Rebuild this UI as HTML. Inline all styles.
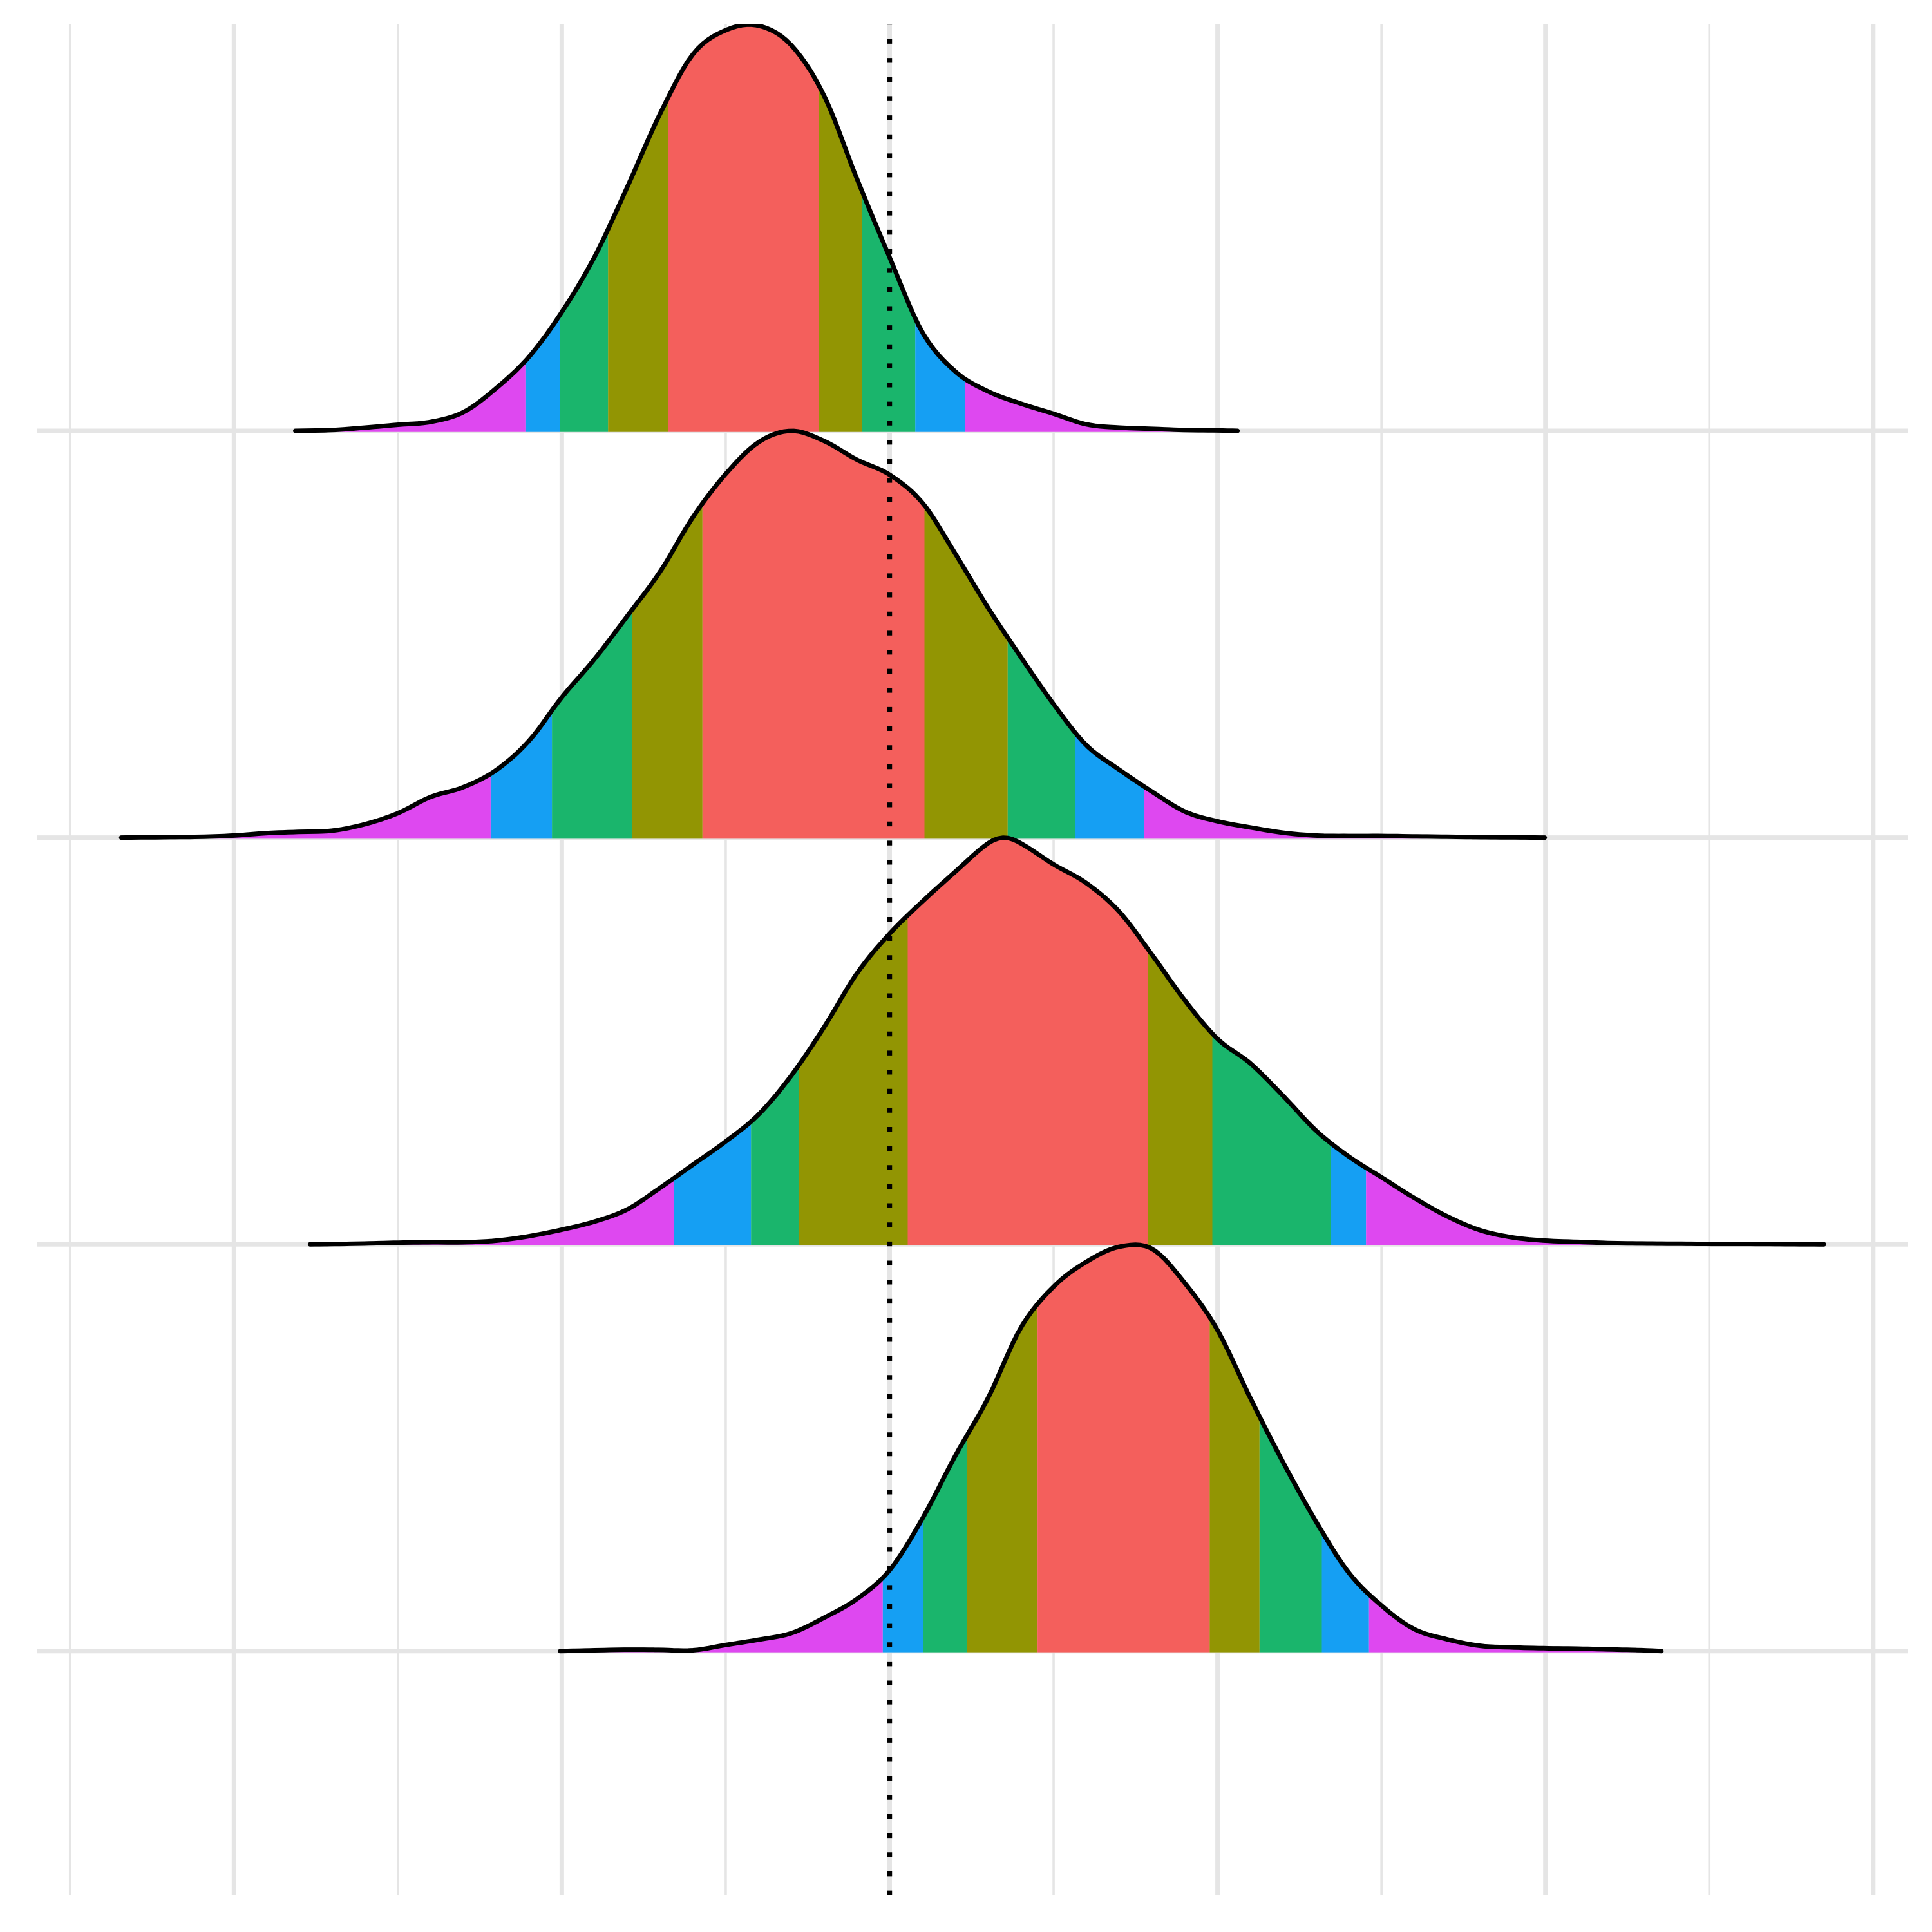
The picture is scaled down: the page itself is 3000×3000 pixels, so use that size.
<!DOCTYPE html>
<html lang="en">
<head>
<meta charset="utf-8">
<title>Ridgeline density chart</title>
<style>
html,body{margin:0;padding:0;background:#fff;width:3000px;height:3000px;overflow:hidden}
svg{display:block}
</style>
</head>
<body>
<svg id="chart" xmlns="http://www.w3.org/2000/svg" width="3000" height="3000" viewBox="0 0 3000 3000">
  <defs>
    <clipPath id="panel-clip"><rect x="0" y="38" width="3000" height="2905"></rect></clipPath>
  </defs>
  <rect x="0" y="0" width="3000" height="3000" fill="#ffffff"></rect>
  <g id="grid"></g>
  <g id="ridges" clip-path="url(#panel-clip)"></g>
  <g id="ref"></g>
</svg>
<script>
const groups = ["ridge-1", "ridge-2", "ridge-3", "ridge-4"];
const majorBreaks = [-200, -100, 0, 100, 200, 300];
const minorBreaks = [-250, -150, -50, 50, 150, 250];
const referenceValue = 0;

const ridge1X = [-181.3,-170,-160,-150,-140,-130,-120,-110,-100,-90,-80,-70,-60,-50,-40,-30,-20,-10,0,10,20,30,40,50,60,70,80,90,100,106.1];
const ridge1H = [0,0.2,0.8,1.5,2.2,4.6,10.5,18.2,29.2,42.8,60,78,92.6,98.5,99.6,94.8,82.4,62,42.6,24.2,14.6,9.7,6.7,4.2,1.6,0.8,0.5,0.2,0.1,0];
const ridge1Breaks = [-111.1,-100.5,-85.9,-67.5,-21.5,-8.5,7.8,22.9];

const ridge2X = [-234.4,-220,-210,-200,-190,-180,-170,-160,-150,-140,-130,-120,-110,-100,-90,-80,-70,-60,-50,-40,-30,-20,-10,0,10,20,30,40,50,60,70,80,90,100,110,120,130,140,150,160,170,180,190,199.8];
const ridge2H = [0,0.1,0.2,0.5,1.1,1.4,1.7,3.3,6,10,12.4,16.6,23.8,34.5,43.9,54.5,65.4,78.8,89.4,97.2,100,97.5,92.9,89.2,82.3,69.8,56.5,44.4,32.8,22.7,16.7,11.3,6.4,4,2.5,1.2,0.5,0.4,0.4,0.3,0.2,0.1,0.05,0];
const ridge2Breaks = [-121.7,-103,-78.5,-57.1,10.6,36,56.5,77.5];

const ridge3X = [-176.8,-170,-160,-150,-140,-130,-120,-110,-100,-90,-80,-70,-60,-50,-40,-30,-20,-10,0,10,20,30,35,40,50,60,70,80,90,100,110,120,130,140,150,160,170,180,190,200,210,220,230,240,250,260,270,285];
const ridge3H = [0,0.05,0.2,0.4,0.5,0.5,0.9,2,3.6,5.6,8.6,13.9,19.6,25.3,31.9,41.5,53.4,66.6,76.4,84.3,91.6,98.6,100,98.6,93.4,88.8,81.8,71.2,60,50.5,44.5,36.5,28,21.6,16.5,11.4,6.9,3.5,1.7,0.9,0.6,0.3,0.2,0.15,0.1,0.1,0.05,0];
const ridge3Breaks = [-65.8,-42.3,-27.8,5.5,78.7,98.4,134.5,145.3];

const ridge4X = [-100.5,-90,-80,-70,-60,-50,-40,-30,-20,-10,0,10,20,30,40,50,60,70,80,90,100,110,120,130,140,150,160,170,180,190,200,210,220,230,235.4];
const ridge4H = [0,0.2,0.35,0.3,0.2,1.5,2.8,4.4,8.2,12.8,19.9,32.6,48,62.2,79.5,89.6,95.7,99.4,98.9,90.5,78.9,62.2,46.4,31.9,19.3,11.2,5.4,2.9,1.3,0.9,0.7,0.6,0.4,0.2,0];
const ridge4Breaks = [-2.1,10.3,23.6,45.1,97.6,112.8,131.8,146.2];

const bandColors = ["#DE48F0","#159FF3","#1AB56C","#929503","#F45F5C","#929503","#1AB56C","#159FF3","#DE48F0"];

const SVG_NS = "http://www.w3.org/2000/svg";
const xScale = v => 1381.5 + 5.091 * v;
const heightScale = h => h * 6.316;
const baselineOf = i => 669 + 631.6 * i;

function makeDensity(xs, hs) {
  const n = xs.length;
  const slope = new Array(n);
  for (let i = 0; i < n; i++) {
    if (i === 0) slope[i] = (hs[1] - hs[0]) / (xs[1] - xs[0]);
    else if (i === n - 1) slope[i] = (hs[n - 1] - hs[n - 2]) / (xs[n - 1] - xs[n - 2]);
    else slope[i] = (hs[i + 1] - hs[i - 1]) / (xs[i + 1] - xs[i - 1]);
  }
  return function (x) {
    if (x <= xs[0]) return hs[0];
    if (x >= xs[n - 1]) return hs[n - 1];
    let i = 0;
    while (i < n - 2 && x > xs[i + 1]) i++;
    const d = xs[i + 1] - xs[i];
    const t = (x - xs[i]) / d;
    const t2 = t * t, t3 = t2 * t;
    return (2 * t3 - 3 * t2 + 1) * hs[i] + (t3 - 2 * t2 + t) * d * slope[i] +
           (-2 * t3 + 3 * t2) * hs[i + 1] + (t3 - t2) * d * slope[i + 1];
  };
}

const gridLayer = document.getElementById("grid");
function addVLine(v, width, name) {
  const ln = document.createElementNS(SVG_NS, "line");
  ln.setAttribute("x1", xScale(v));
  ln.setAttribute("x2", xScale(v));
  ln.setAttribute("y1", 38);
  ln.setAttribute("y2", 2943);
  ln.setAttribute("stroke", "#E5E5E5");
  ln.setAttribute("stroke-width", width);
  
  
  gridLayer.appendChild(ln);
}
minorBreaks.forEach(v => addVLine(v, 3.6, "minor-gridline"));
majorBreaks.forEach(v => addVLine(v, 7, "major-gridline"));
groups.forEach((g, i) => {
  const ln = document.createElementNS(SVG_NS, "line");
  ln.setAttribute("x1", 57);
  ln.setAttribute("x2", 2962);
  ln.setAttribute("y1", baselineOf(i));
  ln.setAttribute("y2", baselineOf(i));
  ln.setAttribute("stroke", "#E5E5E5");
  ln.setAttribute("stroke-width", 7);
  
  
  gridLayer.appendChild(ln);
});

const ridgeLayer = document.getElementById("ridges");
function drawRidge(index, xs, hs, breaks) {
  const base = baselineOf(index);
  const density = makeDensity(xs, hs);
  const xMin = xs[0], xMax = xs[xs.length - 1];
  const edges = [xMin].concat(breaks, [xMax]);
  const group = document.createElementNS(SVG_NS, "g");
  
  
  for (let b = 0; b < edges.length - 1; b++) {
    const a0 = edges[b], a1 = edges[b + 1];
    let d = "M" + xScale(a0).toFixed(1) + " " + (base + 1.8);
    const steps = Math.max(2, Math.ceil((a1 - a0) / 1.5));
    for (let s = 0; s <= steps; s++) {
      const v = a0 + (a1 - a0) * s / steps;
      d += "L" + xScale(v).toFixed(1) + " " + (base - heightScale(density(v))).toFixed(1);
    }
    d += "L" + xScale(a1).toFixed(1) + " " + (base + 1.8) + "Z";
    const band = document.createElementNS(SVG_NS, "path");
    band.setAttribute("d", d);
    band.setAttribute("fill", bandColors[b]);
    
    
    group.appendChild(band);
  }
  let dl = "";
  const total = Math.ceil((xMax - xMin) / 1.5);
  for (let s = 0; s <= total; s++) {
    const v = xMin + (xMax - xMin) * s / total;
    dl += (s ? "L" : "M") + xScale(v).toFixed(1) + " " + (base - heightScale(density(v))).toFixed(1);
  }
  const line = document.createElementNS(SVG_NS, "path");
  line.setAttribute("d", dl);
  line.setAttribute("fill", "none");
  line.setAttribute("stroke", "#000000");
  line.setAttribute("stroke-width", 7);
  line.setAttribute("stroke-linecap", "round");
  line.setAttribute("stroke-linejoin", "round");
  
  
  group.appendChild(line);
  ridgeLayer.appendChild(group);
}
drawRidge(0, ridge1X, ridge1H, ridge1Breaks);
drawRidge(1, ridge2X, ridge2H, ridge2Breaks);
drawRidge(2, ridge3X, ridge3H, ridge3Breaks);
drawRidge(3, ridge4X, ridge4H, ridge4Breaks);

const refLine = document.createElementNS(SVG_NS, "line");
refLine.setAttribute("x1", xScale(referenceValue));
refLine.setAttribute("x2", xScale(referenceValue));
refLine.setAttribute("y1", 2943);
refLine.setAttribute("y2", 38);
refLine.setAttribute("stroke", "#000000");
refLine.setAttribute("stroke-width", 7.41);
refLine.setAttribute("stroke-dasharray", "7.41 22.23");


document.getElementById("ref").appendChild(refLine);
</script>
</body>
</html>
